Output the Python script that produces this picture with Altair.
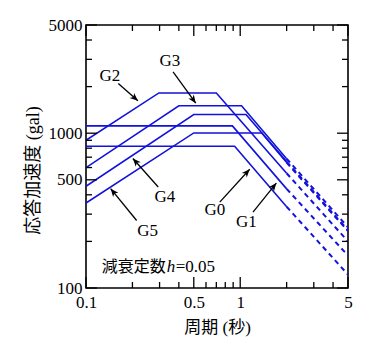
import math
import altair as alt
import pandas as pd

# ---------------- data ----------------
series_names = ["G0", "G1", "G2", "G3", "G4", "G5"]
period_G0 = [0.1, 0.92, 2.0, 5.0]
sa_G0 = [824, 824, 335, 122]
period_G1 = [0.1, 0.89, 2.0, 5.0]
sa_G1 = [1115, 1115, 437, 162]
period_G2 = [0.1, 0.297, 0.70, 2.0, 5.0]
sa_G2 = [901, 1820, 1820, 551, 200]
period_G3 = [0.1, 0.40, 1.02, 2.0, 5.0]
sa_G3 = [599, 1503, 1503, 684, 247]
period_G4 = [0.1, 0.50, 1.09, 2.0, 5.0]
sa_G4 = [454, 1321, 1321, 655, 236]
period_G5 = [0.1, 0.50, 1.38, 2.0, 5.0]
sa_G5 = [354, 1004, 1004, 646, 233]
dash_from = 2.0  # beyond this period the lines are dashed

# label positions and arrows (same order as series_names)
label_T = [0.684, 1.097, 0.143, 0.350, 0.325, 0.251]
label_S = [317, 267, 2350, 2938, 385, 233]
arrow_T_start = [0.737, 1.21, 0.162, 0.367, 0.294, 0.213]
arrow_S_start = [359, 309, 2097, 2494, 449, 273]
arrow_T_tip = [1.152, 1.715, 0.217, 0.515, 0.2014, 0.1445]
arrow_S_tip = [585, 476, 1618, 1564, 686, 438]

note_T = 0.1264
note_S = 136
note_parts = ["減衰定数", "h", "=0.05"]

x_major = [0.1, 0.5, 1, 5]
x_minor = [0.2, 0.3, 0.4, 0.6, 0.7, 0.8, 0.9, 2, 3, 4]
y_major = [100, 500, 1000, 5000]
y_minor = [200, 300, 400, 600, 700, 800, 900, 2000, 3000, 4000]

x_title = "周期 (秒)"
y_title = "応答加速度 (gal)"

# ---------------- build tables ----------------
periods = [period_G0, period_G1, period_G2, period_G3, period_G4, period_G5]
sas = [sa_G0, sa_G1, sa_G2, sa_G3, sa_G4, sa_G5]
rows = []
for name, ts, ss in zip(series_names, periods, sas):
    for t, s in zip(ts, ss):
        if t <= dash_from:
            rows.append({"series": name, "part": "solid", "T": t, "Sa": s})
        if t >= dash_from:
            rows.append({"series": name, "part": "dashed", "T": t, "Sa": s})
curves = pd.DataFrame(rows)

labels = pd.DataFrame({"text": series_names, "T": label_T, "Sa": label_S})

angles = []
for t1, s1, t2, s2 in zip(arrow_T_start, arrow_S_start, arrow_T_tip, arrow_S_tip):
    dx = math.log10(t2 / t1)
    dyup = math.log10(s2 / s1)
    a = math.degrees(math.atan2(dx, dyup)) % 360
    angles.append(a)
arrows = pd.DataFrame({"T": arrow_T_start, "Sa": arrow_S_start,
                       "T2": arrow_T_tip, "Sa2": arrow_S_tip})
heads = pd.DataFrame({"T": arrow_T_tip, "Sa": arrow_S_tip, "angle": angles})

note = pd.DataFrame({"T": [note_T], "Sa": [note_S]})

W, H = 262, 263
BLUE = "#1212dc"
SERIF = "Liberation Serif"
CJK = "Liberation Serif, Noto Sans CJK JP"

xscale = alt.Scale(type="log", domain=[0.1, 5], nice=False)
yscale = alt.Scale(type="log", domain=[100, 5000], nice=False)

xaxis = alt.Axis(values=x_major, format="~g", title=x_title, labelFlush=False,
                 labelOverlap=False, labelFont=SERIF, labelFontSize=17,
                 labelColor="black", labelPadding=6, titleFont=CJK,
                 titleFontSize=17, titleFontWeight="normal", titleColor="black",
                 titleX=W / 2, titleY=39, titleBaseline="middle", titleAlign="center")
yaxis = alt.Axis(values=y_major, format="d", title=y_title, labelFlush=False,
                 labelOverlap=False, labelFont=SERIF, labelFontSize=17,
                 labelColor="black", labelPadding=4, titleFont=CJK,
                 titleFontSize=18, titleFontWeight="normal", titleColor="black",
                 titleX=-53, titleY=145, titleBaseline="middle", titleAlign="center",
                 titleAngle=270)

solid = alt.Chart(curves).transform_filter(alt.datum.part == "solid").mark_line(
    color=BLUE, strokeWidth=1.6, clip=True
).encode(
    x=alt.X("T:Q", scale=xscale, axis=xaxis),
    y=alt.Y("Sa:Q", scale=yscale, axis=yaxis),
    detail="series:N",
)
dashed = alt.Chart(curves).transform_filter(alt.datum.part == "dashed").mark_line(
    color=BLUE, strokeWidth=2, strokeDash=[5, 4], clip=True
).encode(x="T:Q", y="Sa:Q", detail="series:N")

# inward ticks on all four sides
def xticks(vals, length):
    d = pd.DataFrame({"T": vals})
    bottom = alt.Chart(d).mark_rule(color="black", strokeWidth=1.3).encode(
        x="T:Q", y=alt.value(H), y2=alt.value(H - length))
    top = alt.Chart(d).mark_rule(color="black", strokeWidth=1.3).encode(
        x="T:Q", y=alt.value(0), y2=alt.value(length))
    return [bottom, top]

def yticks(vals, length):
    d = pd.DataFrame({"Sa": vals})
    left = alt.Chart(d).mark_rule(color="black", strokeWidth=1.3).encode(
        y="Sa:Q", x=alt.value(0), x2=alt.value(length))
    right = alt.Chart(d).mark_rule(color="black", strokeWidth=1.3).encode(
        y="Sa:Q", x=alt.value(W), x2=alt.value(W - length))
    return [left, right]

tick_layers = xticks(x_major, 11) + xticks(x_minor, 6) + yticks(y_major, 11) + yticks(y_minor, 6)

label_layer = alt.Chart(labels).mark_text(
    font=SERIF, fontSize=17, color="black", align="center", baseline="middle"
).encode(x="T:Q", y="Sa:Q", text="text:N")

shaft = alt.Chart(arrows).mark_rule(color="black", strokeWidth=1.3).encode(
    x="T:Q", x2="T2:Q", y="Sa:Q", y2="Sa2:Q")

head = alt.Chart(heads).mark_point(
    shape="M0,0 L-0.42,1 L0,0.72 L0.42,1 Z", filled=True, color="black",
    size=260, opacity=1, strokeWidth=0.5
).encode(x="T:Q", y="Sa:Q", angle=alt.Angle("angle:Q", scale=None))

note1 = alt.Chart(note).mark_text(
    font="Noto Sans CJK JP", fontSize=16, color="black", align="left", baseline="middle",
    text=note_parts[0]).encode(x="T:Q", y="Sa:Q")
note2 = alt.Chart(note).mark_text(
    font=SERIF, fontSize=17, fontStyle="italic", color="black", align="left",
    baseline="middle", dx=65, text=note_parts[1]).encode(x="T:Q", y="Sa:Q")
note3 = alt.Chart(note).mark_text(
    font=SERIF, fontSize=17, color="black", align="left", baseline="middle",
    dx=74, text=note_parts[2]).encode(x="T:Q", y="Sa:Q")

chart = alt.layer(
    solid, dashed, *tick_layers, shaft, head, label_layer, note1, note2, note3
).properties(
    width=W, height=H,
    autosize=alt.AutoSizeParams(type="none"),
    padding={"left": 86, "top": 25, "right": 41, "bottom": 66},
    background="white",
).configure_view(
    stroke="black", strokeWidth=1.6
).configure_axis(
    grid=False, ticks=False, domain=False
)

chart.save("out.html", embed_options={"renderer": "svg", "actions": False})
